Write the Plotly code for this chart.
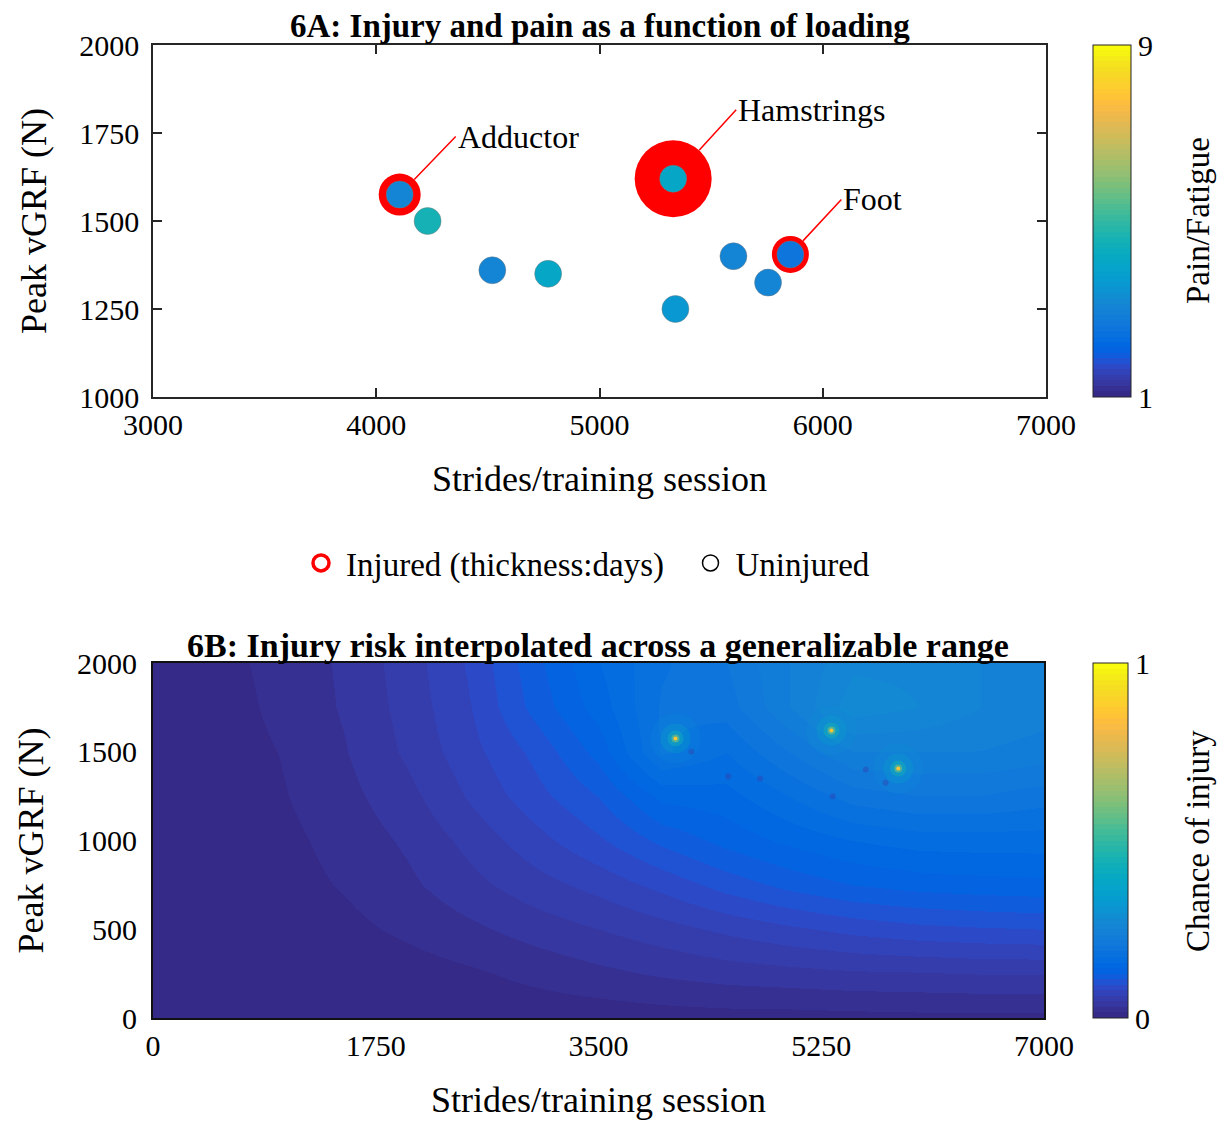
import plotly.graph_objects as go

# ---------------- data ----------------
strides = [4105, 4230, 4520, 4770, 5330, 5340, 5600, 5755, 5855]
peak_vgrf = [1575, 1500, 1360, 1350, 1620, 1250, 1400, 1325, 1405]
pain = [3, 4.5, 3, 4, 4, 3.5, 3, 3, 2.5]
injury_site = ["Adductor", "", "", "", "Hamstrings", "", "", "", "Foot"]
injury_days = [3, 0, 0, 0, 10, 0, 0, 0, 2]

x_ticks_a = [3000, 4000, 5000, 6000, 7000]
y_ticks_a = [1000, 1250, 1500, 1750, 2000]
x_ticks_b = [0, 1750, 3500, 5250, 7000]
y_ticks_b = [0, 500, 1000, 1500, 2000]

# interpolated injury-risk surface (read on a coarse grid), rows bottom -> top
risk_x = [0, 500, 1000, 1500, 2000, 2500, 3000, 3500, 4000, 4500, 5000, 5500, 6000, 6500, 7000]
risk_y = [0, 250, 500, 750, 1000, 1250, 1500, 1750, 2000]
risk_z = [
    [0.001, 0.001, 0.002, 0.002, 0.003, 0.004, 0.005, 0.006, 0.008, 0.009, 0.009, 0.010, 0.011, 0.011, 0.011],
    [0.002, 0.002, 0.003, 0.005, 0.008, 0.013, 0.020, 0.027, 0.033, 0.038, 0.041, 0.044, 0.045, 0.047, 0.047],
    [0.002, 0.003, 0.006, 0.011, 0.019, 0.028, 0.038, 0.047, 0.056, 0.066, 0.075, 0.083, 0.089, 0.092, 0.094],
    [0.003, 0.005, 0.009, 0.017, 0.028, 0.042, 0.056, 0.068, 0.083, 0.100, 0.114, 0.125, 0.131, 0.134, 0.136],
    [0.004, 0.006, 0.011, 0.021, 0.034, 0.052, 0.072, 0.091, 0.113, 0.130, 0.144, 0.156, 0.163, 0.164, 0.164],
    [0.005, 0.007, 0.014, 0.026, 0.042, 0.065, 0.088, 0.110, 0.145, 0.150, 0.172, 0.195, 0.203, 0.203, 0.195],
    [0.005, 0.008, 0.016, 0.030, 0.050, 0.073, 0.098, 0.131, 0.190, 0.172, 0.203, 0.234, 0.234, 0.234, 0.227],
    [0.005, 0.009, 0.019, 0.033, 0.053, 0.078, 0.115, 0.148, 0.190, 0.195, 0.234, 0.275, 0.266, 0.250, 0.242],
    [0.005, 0.011, 0.020, 0.034, 0.055, 0.081, 0.120, 0.156, 0.185, 0.203, 0.234, 0.262, 0.262, 0.250, 0.242],
]

# ---------------- style ----------------
PARULA = [
    (0.2081, 0.1663, 0.5292), (0.2116, 0.1898, 0.5777), (0.2123, 0.2138, 0.6270), (0.2081, 0.2386, 0.6771),
    (0.1959, 0.2645, 0.7279), (0.1707, 0.2919, 0.7792), (0.1253, 0.3242, 0.8303), (0.0591, 0.3598, 0.8683),
    (0.0117, 0.3875, 0.8820), (0.0060, 0.4086, 0.8828), (0.0165, 0.4266, 0.8786), (0.0329, 0.4430, 0.8720),
    (0.0498, 0.4586, 0.8641), (0.0629, 0.4737, 0.8554), (0.0723, 0.4887, 0.8467), (0.0779, 0.5040, 0.8384),
    (0.0793, 0.5200, 0.8312), (0.0749, 0.5375, 0.8263), (0.0641, 0.5570, 0.8240), (0.0488, 0.5772, 0.8228),
    (0.0343, 0.5966, 0.8199), (0.0265, 0.6137, 0.8135), (0.0239, 0.6287, 0.8038), (0.0231, 0.6418, 0.7913),
    (0.0228, 0.6535, 0.7768), (0.0267, 0.6642, 0.7607), (0.0384, 0.6743, 0.7436), (0.0590, 0.6838, 0.7254),
    (0.0843, 0.6928, 0.7062), (0.1133, 0.7015, 0.6859), (0.1453, 0.7098, 0.6646), (0.1801, 0.7177, 0.6424),
    (0.2178, 0.7250, 0.6193), (0.2586, 0.7317, 0.5954), (0.3022, 0.7376, 0.5712), (0.3482, 0.7424, 0.5473),
    (0.3953, 0.7459, 0.5244), (0.4420, 0.7481, 0.5033), (0.4871, 0.7491, 0.4840), (0.5300, 0.7491, 0.4661),
    (0.5709, 0.7485, 0.4494), (0.6099, 0.7473, 0.4337), (0.6473, 0.7456, 0.4188), (0.6834, 0.7435, 0.4044),
    (0.7184, 0.7411, 0.3905), (0.7525, 0.7384, 0.3768), (0.7858, 0.7356, 0.3633), (0.8185, 0.7327, 0.3498),
    (0.8507, 0.7299, 0.3360), (0.8824, 0.7274, 0.3217), (0.9139, 0.7258, 0.3063), (0.9450, 0.7261, 0.2886),
    (0.9739, 0.7314, 0.2666), (0.9938, 0.7455, 0.2403), (0.9990, 0.7653, 0.2164), (0.9955, 0.7861, 0.1967),
    (0.9880, 0.8066, 0.1794), (0.9789, 0.8271, 0.1633), (0.9697, 0.8481, 0.1475), (0.9626, 0.8705, 0.1309),
    (0.9589, 0.8949, 0.1132), (0.9598, 0.9218, 0.0948), (0.9661, 0.9514, 0.0755), (0.9763, 0.9831, 0.0538),
]
n = len(PARULA)
def rgb(c):
    return "rgb(%d,%d,%d)" % tuple(round(v * 255) for v in c)

step_scale = []
for i, c in enumerate(PARULA):
    step_scale.append([i / n, rgb(c)])
    step_scale.append([(i + 1) / n, rgb(c)])

FONT = "Liberation Serif, Times New Roman, serif"
AX = "#262626"
# page body has an 8px margin: the figure starts at (8, 8)
OX, OY = 8, 8
W, H = 1230 - 2 * OX, 1128 - 2 * OY
def px_x(p): return (p - OX) / W
def px_y(p): return 1 - (p - OY) / H

injured_idx = [i for i, d in enumerate(injury_days) if d > 0]
healthy_idx = [i for i, d in enumerate(injury_days) if d == 0]
inner_size = 27
px_per_day = 2.5

fig = go.Figure()

# ---------- 6A: scatter ----------
fig.add_trace(go.Scatter(
    x=[strides[i] for i in injured_idx], y=[peak_vgrf[i] for i in injured_idx],
    mode="markers", showlegend=False, hoverinfo="skip",
    marker=dict(size=[inner_size + 2 * px_per_day * injury_days[i] for i in injured_idx],
                color="#ff0000", opacity=1, line=dict(width=0)),
    xaxis="x", yaxis="y"))
fig.add_trace(go.Scatter(
    x=strides, y=peak_vgrf, mode="markers", showlegend=False,
    marker=dict(size=inner_size, color=pain, coloraxis="coloraxis", opacity=1,
                line=dict(width=1, color="rgba(120,120,120,0.45)")),
    xaxis="x", yaxis="y"))

# legend entries
fig.add_trace(go.Scatter(x=[None], y=[None], mode="markers", name="Injured (thickness:days)\u00a0\u00a0",
                         marker=dict(symbol="circle-open", size=26, color="#ff0000", line=dict(width=3.5)),
                         xaxis="x", yaxis="y"))
fig.add_trace(go.Scatter(x=[None], y=[None], mode="markers", name="Uninjured",
                         marker=dict(symbol="circle-open", size=26, color="#000000", line=dict(width=1.5)),
                         xaxis="x", yaxis="y"))

# ---------- 6B: heatmap ----------
fig.add_trace(go.Heatmap(
    x=risk_x, y=risk_y, z=risk_z, zsmooth="best", coloraxis="coloraxis2",
    xaxis="x2", yaxis="y2", hoverinfo="skip"))
# local peaks / dips at the observed athletes
inj_x = [strides[i] for i in injured_idx]
inj_y = [peak_vgrf[i] for i in injured_idx]
for size, val, op in [(50, 0.30, 0.16), (30, 0.36, 0.28), (16, 0.45, 0.45), (8, 0.6, 0.6), (4, 0.85, 1.0)]:
    fig.add_trace(go.Scatter(x=inj_x, y=inj_y, mode="markers", showlegend=False, hoverinfo="skip",
                             marker=dict(size=size, color=[val] * len(inj_x), coloraxis="coloraxis2",
                                         opacity=op, line=dict(width=0)), xaxis="x2", yaxis="y2"))
fig.add_trace(go.Scatter(x=[strides[i] for i in healthy_idx], y=[peak_vgrf[i] for i in healthy_idx],
                         mode="markers", showlegend=False, hoverinfo="skip",
                         marker=dict(size=6, color=[0.06] * len(healthy_idx), coloraxis="coloraxis2",
                                     opacity=0.4, line=dict(width=0)), xaxis="x2", yaxis="y2"))

tickfont = dict(family=FONT, size=30, color="#000")
titlefont = dict(family=FONT, size=36, color="#000")

common_ax = dict(showgrid=False, zeroline=False, showline=True, linecolor=AX, linewidth=1.5,
                 mirror="ticks", ticks="inside", ticklen=9, tickwidth=1.5, tickcolor=AX,
                 tickfont=tickfont, automargin=False)

cb_common = dict(xanchor="left", xref="paper", xpad=0, ypad=0, lenmode="fraction", yanchor="top",
                 outlinecolor=AX, outlinewidth=1, ticks="outside", ticklen=1,
                 tickcolor="rgba(0,0,0,0)", tickfont=tickfont)

fig.update_layout(
    width=W, height=H, margin=dict(l=0, r=0, t=0, b=0, autoexpand=False),
    paper_bgcolor="white", plot_bgcolor="white",
    font=dict(family=FONT, color="#000"),
    xaxis=dict(domain=[px_x(153), px_x(1046)], range=[3000, 7000], tickvals=x_ticks_a,
               title=dict(text="Strides/training session", font=titlefont, standoff=26),
               anchor="y", **common_ax),
    yaxis=dict(domain=[px_y(397), px_y(45)], range=[1000, 2000], tickvals=y_ticks_a,
               title=dict(text="Peak vGRF (N)", font=titlefont, standoff=22),
               anchor="x", ticklabelstandoff=6, **common_ax),
    xaxis2=dict(domain=[px_x(153), px_x(1044)], range=[0, 7000], tickvals=x_ticks_b,
                title=dict(text="Strides/training session", font=titlefont, standoff=35),
                anchor="y2", showgrid=False, zeroline=False, showline=True, linecolor="#111",
                linewidth=2, mirror=True, ticks="", tickfont=tickfont, automargin=False),
    yaxis2=dict(domain=[px_y(1018), px_y(663)], range=[0, 2000], tickvals=y_ticks_b,
                title=dict(text="Peak vGRF (N)", font=titlefont, standoff=22),
                anchor="x2", showgrid=False, zeroline=False, showline=True, linecolor="#111",
                linewidth=2, mirror=True, ticks="", tickfont=tickfont, ticklabelstandoff=8,
                automargin=False),
    coloraxis=dict(colorscale=step_scale, cmin=1, cmax=9,
                   colorbar=dict(x=px_x(1093), thickness=38, len=(397 - 45) / H, y=px_y(45),
                                 tickvals=[1, 9], **cb_common)),
    coloraxis2=dict(colorscale=step_scale, cmin=0, cmax=1,
                    colorbar=dict(x=px_x(1093), thickness=35, len=(1018 - 663) / H, y=px_y(663),
                                  tickvals=[0, 1], **cb_common)),
    legend=dict(orientation="h", x=px_x(296), xanchor="left", y=px_y(563), yanchor="middle",
                font=dict(family=FONT, size=33, color="#000"), bgcolor="rgba(0,0,0,0)",
                itemsizing="trace", itemwidth=40, tracegroupgap=0),
    showlegend=True,
)

annotations = [
    dict(text="<b>6A: Injury and pain as a function of loading</b>", xref="paper", yref="paper",
         x=px_x(600), y=px_y(26), xanchor="center", yanchor="middle", showarrow=False,
         font=dict(family=FONT, size=33, color="#000")),
    dict(text="<b>6B: Injury risk interpolated across a generalizable range</b>", xref="paper", yref="paper",
         x=px_x(598), y=px_y(645), xanchor="center", yanchor="middle", showarrow=False,
         font=dict(family=FONT, size=34, color="#000")),
    dict(text="Pain/Fatigue", xref="paper", yref="paper", x=px_x(1198), y=px_y(221),
         xanchor="center", yanchor="middle", textangle=-90, showarrow=False,
         font=dict(family=FONT, size=33, color="#000")),
    dict(text="Chance of injury", xref="paper", yref="paper", x=px_x(1198), y=px_y(841),
         xanchor="center", yanchor="middle", textangle=-90, showarrow=False,
         font=dict(family=FONT, size=33, color="#000")),
]
label_offsets = {"Adductor": (56, -58), "Hamstrings": (63, -69), "Foot": (51, -55)}
for i in injured_idx:
    ring_r = (inner_size + 2 * px_per_day * injury_days[i]) / 2
    ax_, ay_ = label_offsets[injury_site[i]]
    annotations.append(dict(
        text=injury_site[i], x=strides[i], y=peak_vgrf[i], xref="x", yref="y",
        showarrow=True, arrowhead=0, arrowwidth=1.5, arrowcolor="#ff0000",
        ax=ax_, ay=ay_, standoff=ring_r, xanchor="left", yanchor="middle",
        font=dict(family=FONT, size=32, color="#000")))
fig.update_layout(annotations=annotations)

fig.write_html("out.html")
